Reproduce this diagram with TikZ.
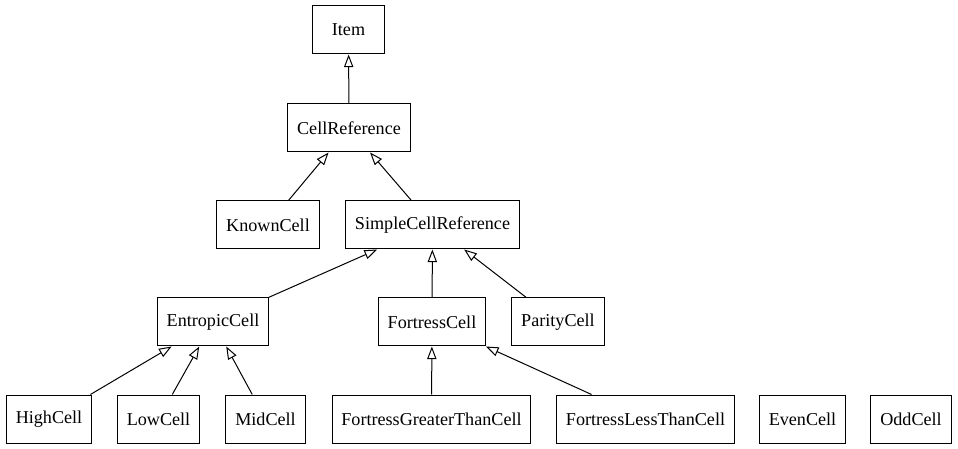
\documentclass[tikz,border=0pt]{standalone}
\usepackage{fontspec}
\setmainfont{Liberation Serif}
\usetikzlibrary{arrows.meta}
\tikzset{
  classbox/.style={draw, line width=0.75pt, minimum width=54pt, minimum height=36pt,
                   inner xsep=7pt, font=\fontsize{13.6pt}{16pt}\selectfont},
  inherit/.style={line width=0.75pt, -{Triangle[open, length=9.5pt, width=7pt]}},
}
\begin{document}
\begin{tikzpicture}[x=0.75pt, y=-0.75pt]
    \useasboundingbox (0,0) rectangle (958,449);
    % levels 0 to 2
    \node[classbox] (item) at (348.5, 30) {Item};
    \node[classbox] (cellref) at (349, 128) {CellReference};
    \node[classbox] (known) at (268, 225) {KnownCell};
    \node[classbox] (simple) at (432.5, 225) {SimpleCellReference};
    % level 3
    \node[classbox] (entropic) at (213, 322) {EntropicCell};
    \node[classbox] (fortress) at (432, 322) {FortressCell};
    \node[classbox] (parity) at (558, 322) {ParityCell};
    % level 4
    \node[classbox] (high) at (49, 419) {HighCell};
    \node[classbox] (low) at (158.5, 419) {LowCell};
    \node[classbox] (mid) at (265.5, 419) {MidCell};
    \node[classbox] (greater) at (431.5, 419) {FortressGreaterThanCell};
    \node[classbox] (less) at (645.5, 419) {FortressLessThanCell};
    \node[classbox] (even) at (802.5, 419) {EvenCell};
    \node[classbox] (odd) at (911, 419) {OddCell};
    % inheritance
    \draw[inherit] (cellref) -- (item);
    \draw[inherit] (known) -- (cellref);
    \draw[inherit] (simple) -- (cellref);
    \draw[inherit] (entropic) -- (simple);
    \draw[inherit] (fortress) -- (simple);
    \draw[inherit] (parity) -- (simple);
    \draw[inherit] (high) -- (entropic);
    \draw[inherit] (low) -- (entropic);
    \draw[inherit] (mid) -- (entropic);
    \draw[inherit] (greater) -- (fortress);
    \draw[inherit] (less) -- (fortress);
  \end{tikzpicture}
\end{document}
